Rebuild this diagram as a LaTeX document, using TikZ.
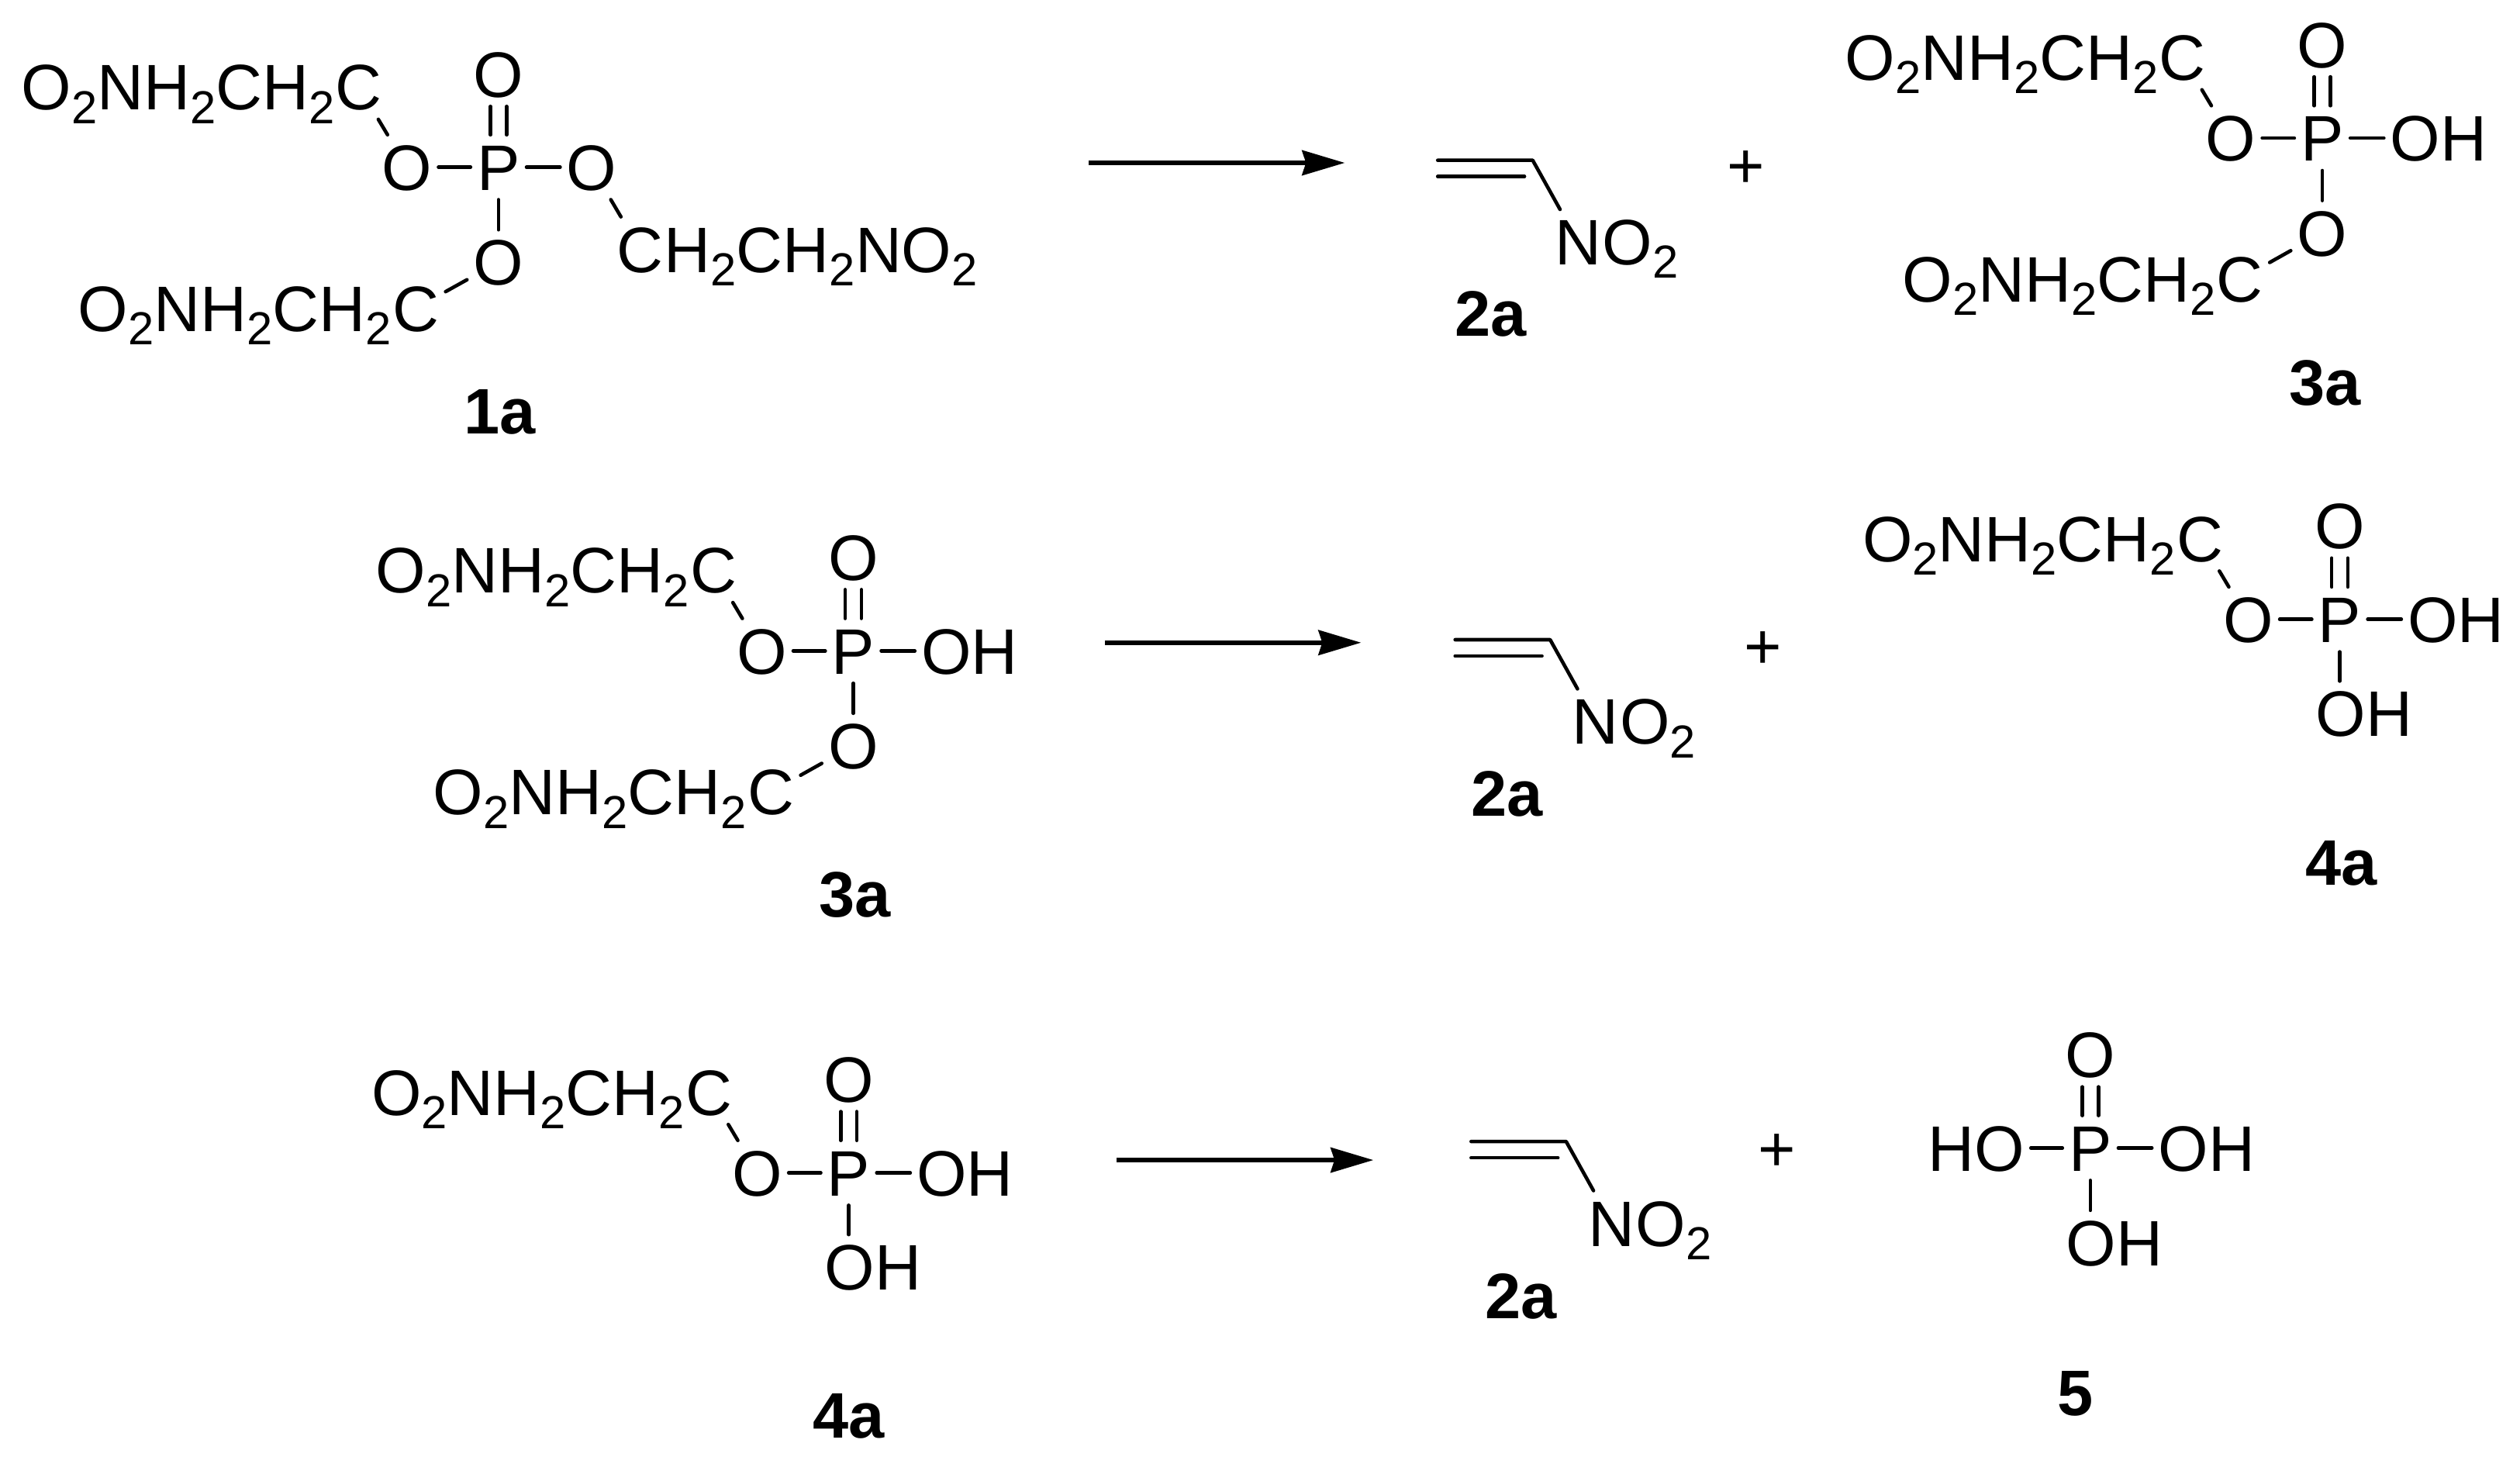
\documentclass[tikz,border=0pt]{standalone}
\usepackage{fontspec}
\setmainfont{Liberation Sans}
\usetikzlibrary{positioning,arrows.meta}
\newcommand{\sbs}[1]{\raisebox{-4.9pt}{\fontsize{17}{17}\selectfont #1}}
\tikzset{
    atom/.style={font=\fontsize{23.6}{28}\selectfont, text height=16.9pt, text depth=0pt, inner xsep=2.2pt, inner ysep=3.25pt},
    chain/.style={atom, inner xsep=0pt},
    cmpd/.style={atom, font=\fontsize{23.6}{28}\selectfont\bfseries},
    bond/.style={line width=1.3pt, line cap=round, line join=round},
    rxn/.style={line width=1.7pt, -{Stealth[length=0.55cm,width=0.32cm,inset=1.4pt]}},
    % Diester, origin at the P atom
    diester/.pic={
        \node[atom] (p) at (0,0) {P};
        \node[atom] (od) at (0,-58) {O};
        \node[atom] (ol) at (-56.7,0) {O};
        \node[atom] (oh) at (72,0) {OH};
        \node[atom] (os) at (0,58.7) {O};
        \node[atom] (ca) at (-86.5,-50) {C};
        \node[chain, left=-2.2pt of ca] (cha) {O\sbs{2}NH\sbs{2}CH\sbs{2}};
        \node[atom] (cb) at (-51,87.3) {C};
        \node[chain, left=-2.2pt of cb] (chb) {O\sbs{2}NH\sbs{2}CH\sbs{2}};
        \draw[bond] ([xshift=-2.95pt]p.north) -- ([xshift=-2.95pt]od.south);
        \draw[bond] ([xshift=2.95pt]p.north) -- ([xshift=2.95pt]od.south);
        \draw[bond] (p) -- (ol);
        \draw[bond] (p) -- (oh);
        \draw[bond] (p) -- (os);
        \draw[bond] (ca) -- (ol);
        \draw[bond] (cb) -- (os);
    },
    % Monoester, origin at the P atom
    monoester/.pic={
        \node[atom] (p) at (0,0) {P};
        \node[atom] (od) at (0,-58) {O};
        \node[atom] (ol) at (-56.7,0) {O};
        \node[atom] (oh) at (72,0) {OH};
        \node[atom] (ob) at (15,58.3) {OH};
        \node[atom] (ca) at (-86.5,-50) {C};
        \node[chain, left=-2.2pt of ca] (cha) {O\sbs{2}NH\sbs{2}CH\sbs{2}};
        \draw[bond] ([xshift=-2.95pt]p.north) -- ([xshift=-2.95pt]od.south);
        \draw[bond] ([xshift=2.95pt]p.north) -- ([xshift=2.95pt]od.south);
        \draw[bond] (p) -- (ol);
        \draw[bond] (p) -- (oh);
        \draw[bond] (p.south) -- (p.south |- ob.north);
        \draw[bond] (ca) -- (ol);
    },
    % Nitroethene, origin at the substituted carbon
    nitro/.pic={
        \coordinate (va) at (0,0);
        \coordinate (vb) at (-58.8,0);
        \coordinate (vc) at (-5.1,10.1);
        \coordinate (vd) at (-58.8,10.1);
        \node[atom] (nn) at (28.1,50.5) {N};
        \node[chain, right=-2.2pt of nn] (no) {O\sbs{2}};
        \draw[bond] (vb) -- (va) -- (nn);
        \draw[bond] (vd) -- (vc);
    }
}
\begin{document}
\begin{tikzpicture}[x=0.020833cm,y=-0.020833cm]
        \useasboundingbox (0,0) rectangle (1560,901.9);

        % First row
        \node[atom] (p1) at (308.6,103.5) {P};
        \node[atom] (o1d) at (308.6,45.8) {O};
        \node[atom] (o1l) at (251.9,103.5) {O};
        \node[atom] (o1r) at (366.3,103.5) {O};
        \node[atom] (o1s) at (308.6,162.3) {O};
        \node[atom] (c1a) at (222.2,53.8) {C};
        \node[chain, left=-2.2pt of c1a] (ch1a) {O\sbs{2}NH\sbs{2}CH\sbs{2}};
        \node[atom] (c1b) at (257.4,190.8) {C};
        \node[chain, left=-2.2pt of c1b] (ch1b) {O\sbs{2}NH\sbs{2}CH\sbs{2}};
        \node[atom] (c1c) at (396.2,154.3) {C};
        \node[chain, right=-2.2pt of c1c] (ch1c) {H\sbs{2}CH\sbs{2}NO\sbs{2}};
        \draw[bond] ([xshift=-2.95pt]p1.north) -- ([xshift=-2.95pt]o1d.south);
        \draw[bond] ([xshift=2.95pt]p1.north) -- ([xshift=2.95pt]o1d.south);
        \draw[bond] (p1) -- (o1l);
        \draw[bond] (p1) -- (o1r);
        \draw[bond] (p1) -- (o1s);
        \draw[bond] (c1a) -- (o1l);
        \draw[bond] (c1b) -- (o1s);
        \draw[bond] (o1r) -- (c1c);
        \node[cmpd] (l1a) at (309.6,254.5) {1a};

        \coordinate (r1s) at (673.9,100.8);
        \coordinate (r1e) at (832.5,100.8);
        \draw[rxn] (r1s) -- (r1e);
        \pic (n1) at (948.8,99.2) {nitro};
        \node[cmpd] (l2a) at (922.8,193.8) {2a};
        \node[atom] (plus1) at (1081,102) {+};
        \pic (d1) at (1437.6,85.5) {diester};
        \node[cmpd] (l3a) at (1439.4,236.6) {3a};

        % Second row
        \pic (d2) at (528.2,402.9) {diester};
        \node[cmpd] (m3a) at (529.3,553.5) {3a};
        \coordinate (r2s) at (684.2,397.8);
        \coordinate (r2e) at (842.6,397.8);
        \draw[rxn] (r2s) -- (r2e);
        \pic (n2) at (959.6,396) {nitro};
        \node[cmpd] (m2a) at (933.1,491.1) {2a};
        \node[atom] (plus2) at (1091.4,399.5) {+};
        \pic (e2) at (1448.4,383.4) {monoester};
        \node[cmpd] (m4a) at (1449.4,533.6) {4a};

        % Third row
        \pic (e3) at (525.4,726) {monoester};
        \node[cmpd] (b4a) at (525.2,875.9) {4a};
        \coordinate (r3s) at (691.2,718.1);
        \coordinate (r3e) at (850.2,718.1);
        \draw[rxn] (r3s) -- (r3e);
        \pic (n3) at (969.5,706.6) {nitro};
        \node[cmpd] (b2a) at (941.7,801.9) {2a};
        \node[atom] (plus3) at (1100,710.6) {+};
        \node[atom] (p5) at (1294,710.6) {P};
        \node[atom] (o5d) at (1294,652.7) {O};
        \node[atom] (o5l) at (1223.3,710.6) {HO};
        \node[atom] (o5r) at (1366,710.6) {OH};
        \node[atom] (o5s) at (1309,769.3) {OH};
        \draw[bond] ([xshift=-2.95pt]p5.north) -- ([xshift=-2.95pt]o5d.south);
        \draw[bond] ([xshift=2.95pt]p5.north) -- ([xshift=2.95pt]o5d.south);
        \draw[bond] (p5) -- (o5l);
        \draw[bond] (p5) -- (o5r);
        \draw[bond] (p5.south) -- (p5.south |- o5s.north);
        \node[cmpd] (l5) at (1284.8,862.1) {5};
    \end{tikzpicture}
\end{document}
